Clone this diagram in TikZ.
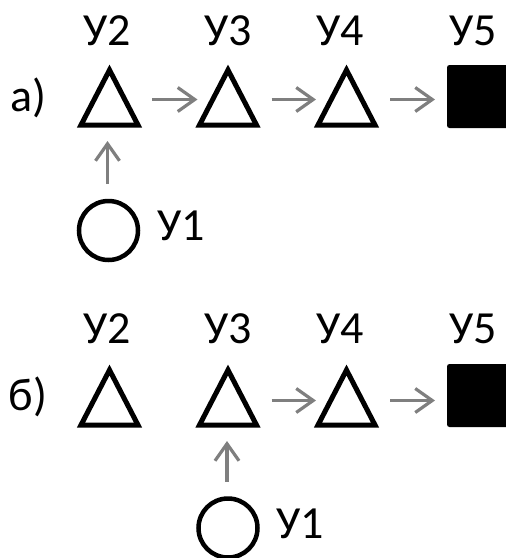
\documentclass[tikz,border=0pt]{standalone}
\usepackage{fontspec}
\setmainfont{Carlito}
\usetikzlibrary{arrows.meta}
\definecolor{arrgray}{HTML}{7F7F7F}
\tikzset{
  x=1pt, y=-1pt,
  box/.style={minimum width=57pt, minimum height=55pt, inner sep=0pt, outer sep=0pt},
  tri/.style={line width=5pt, line join=miter, draw=black},
  sq/.style={fill=black, minimum size=63pt, inner sep=0pt, outer sep=0pt, rounded corners=2.5pt},
  circ/.style={circle, draw=black, line width=4.5pt, minimum size=59pt, inner sep=0pt, outer sep=0pt},
  arr/.style={draw=arrgray, line width=3.2pt, -{Straight Barb[length=17pt, width=24pt, line width=3.2pt]}},
  lbl/.style={font=\fontsize{46}{50}\selectfont, inner sep=0pt, anchor=base},
}
\begin{document}
\begin{tikzpicture}
\useasboundingbox (0,0) rectangle (506,558);
% ---- a) ----
\node[lbl] (la) at (28,111) {а)};
\node[box] (a2) at (109.5,97.5) {};
\node[box] (a3) at (228,97.5) {};
\node[box] (a4) at (346.5,97.5) {};
\node[sq] (a5) at (478.5,96.5) {};
\node[circ] (a1) at (108.5,230.5) {};
\foreach \n in {a2,a3,a4}{\draw[tri] (\n.south west) -- (\n.north) -- (\n.south east) -- cycle;}
\node[lbl] (ta2) at (107,45) {У2};
\node[lbl] (ta3) at (228,45) {У3};
\node[lbl] (ta4) at (340,45) {У4};
\node[lbl] (ta5) at (473,45) {У5};
\node[lbl] (ta1) at (181,240) {У1};
\draw[arr, shorten <=14pt, shorten >=2pt] ([yshift=-2pt]a2.east) -- ([yshift=-2pt]a3.west);
\draw[arr, shorten <=15pt, shorten >=2pt] ([yshift=-2pt]a3.east) -- ([yshift=-2pt]a4.west);
\draw[arr, shorten <=15pt, shorten >=12pt] ([yshift=-2pt]a4.east) -- ([yshift=-2pt]a4.east -| a5.west);
\draw[arr, shorten <=17pt, shorten >=16pt] ([xshift=-1pt]a1.north) -- ([xshift=-1pt]a1.north |- a2.south);
% ---- б) ----
\node[lbl] (lb) at (28,410) {б)};
\node[box] (b2) at (109.5,397.5) {};
\node[box] (b3) at (228,397.5) {};
\node[box] (b4) at (346.5,397.5) {};
\node[sq] (b5) at (478.5,395.5) {};
\node[circ] (b1) at (228,528) {};
\foreach \n in {b2,b3,b4}{\draw[tri] (\n.south west) -- (\n.north) -- (\n.south east) -- cycle;}
\node[lbl] (tb2) at (107,343) {У2};
\node[lbl] (tb3) at (228,343) {У3};
\node[lbl] (tb4) at (340,343) {У4};
\node[lbl] (tb5) at (473,343) {У5};
\node[lbl] (tb1) at (300,538) {У1};
\draw[arr, shorten <=15pt, shorten >=2pt] ([yshift=-3pt]b3.east) -- ([yshift=-3pt]b4.west);
\draw[arr, shorten <=15pt, shorten >=12pt] ([yshift=-3pt]b4.east) -- ([yshift=-3pt]b4.east -| b5.west);
\draw[arr, shorten <=17pt, shorten >=16pt] ([xshift=-1pt]b1.north) -- ([xshift=-1pt]b1.north |- b3.south);
\end{tikzpicture}
\end{document}
